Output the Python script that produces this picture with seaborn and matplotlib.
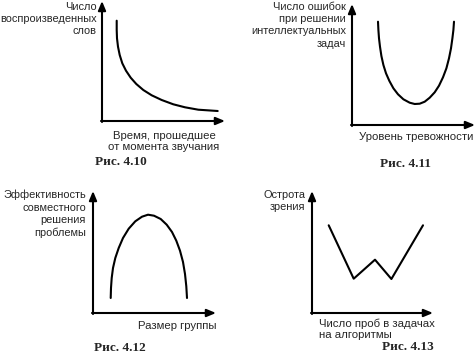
import matplotlib
import matplotlib.pyplot as plt
import seaborn as sns

matplotlib.use("Agg")

# Tamaño de la imagen de referencia en pixeles
ANCHO_PX = 477
ALTO_PX = 363

# Рис. 4.10: curva del olvido (unidades en pixeles desde el origen del panel)
olvido_x = [14.7, 14.7, 15.0, 16.0, 17.7, 20.3, 24.0, 28.7, 34.3, 41.3, 49.7,
            59.7, 71.3, 83.0, 96.3, 115.7]
olvido_y = [100.3, 91.0, 82.7, 74.3, 66.0, 57.7, 50.3, 43.3, 37.0, 31.0, 25.7,
            21.0, 16.7, 13.7, 11.3, 10.0]

# Рис. 4.11: errores segun el nivel de ansiedad
ansiedad_x = [26.0, 26.4, 27.0, 28.0, 29.4, 31.4, 34.0, 37.4, 41.4, 46.0, 51.4, 57.7, 62.7,
              67.7, 72.7, 77.7, 82.7, 87.0, 91.0, 94.4, 97.0, 99.0, 100.4, 101.4, 102.0]
ansiedad_y = [103.3, 95.0, 86.7, 78.3, 69.0, 60.0, 51.7, 44.0, 36.7, 30.7, 25.7, 22.3, 21.0,
              21.3, 23.3, 27.3, 32.7, 39.3, 47.7, 56.7, 66.7, 76.7, 86.7, 95.0, 103.3]

# Рис. 4.12: eficacia segun el tamaño del grupo
grupo_x = [17.7, 18.0, 18.7, 20.0, 22.3, 25.7, 30.0, 35.7, 42.3, 49.0, 55.0,
           61.0, 67.7, 73.7, 79.0, 83.3, 87.0, 90.0, 92.0, 93.3, 94.0]
grupo_y = [15.0, 25.0, 35.0, 45.0, 55.0, 65.0, 75.0, 84.3, 91.7, 96.3, 98.3,
           97.3, 94.0, 88.3, 81.0, 72.3, 62.3, 51.0, 39.0, 26.7, 15.0]

# Рис. 4.13: agudeza visual segun el numero de pruebas
pruebas_x = [16.7, 41.7, 63.0, 79.4, 111.0]
pruebas_y = [87.7, 34.3, 53.3, 34.0, 87.7]

# Textos y posiciones de cada panel
paneles = [
    {"origen": (102, 121), "largo_x": 123, "largo_y": 120,
     "x": olvido_x, "y": olvido_y,
     "eje_y": "Число\nвоспроизведенных\nслов", "pos_y": (97, 1.5),
     "eje_x": "Время, прошедшее\nот момента звучания", "pos_x": (164, 131), "alin_x": "center",
     "rotulo": "Рис. 4.10", "pos_rotulo": (121, 162)},
    {"origen": (352, 125), "largo_x": 123, "largo_y": 121,
     "x": ansiedad_x, "y": ansiedad_y,
     "eje_y": "Число ошибок\nпри решении\nинтеллектуальных\nзадач", "pos_y": (346, 1.5),
     "eje_x": "Уровень тревожности", "pos_x": (416, 132), "alin_x": "center",
     "rotulo": "Рис. 4.11", "pos_rotulo": (406, 164)},
    {"origen": (93, 313), "largo_x": 123, "largo_y": 122,
     "x": grupo_x, "y": grupo_y,
     "eje_y": "Эффективность\nсовместного\nрешения\nпроблемы", "pos_y": (86, 190),
     "eje_x": "Размер группы", "pos_x": (177, 321), "alin_x": "center",
     "rotulo": "Рис. 4.12", "pos_rotulo": (120, 348)},
    {"origen": (312, 313), "largo_x": 121, "largo_y": 122,
     "x": pruebas_x, "y": pruebas_y,
     "eje_y": "Острота\nзрения", "pos_y": (305, 190),
     "eje_x": "Число проб в задачах\nна алгоритмы", "pos_x": (319, 319), "alin_x": "left",
     "rotulo": "Рис. 4.13", "pos_rotulo": (408, 347)},
]


def a_figura(px, py):
    # Convierte pixeles de la imagen a fracciones de la figura
    return px / ANCHO_PX, 1 - py / ALTO_PX


sns.set_style("white")
plt.rcParams["font.family"] = ["Liberation Sans", "DejaVu Sans"]

figura = plt.figure(figsize=(ANCHO_PX / 100, ALTO_PX / 100), dpi=100)

for panel in paneles:
    ox, oy = panel["origen"]
    # Cada eje mide 130 px y sus unidades son pixeles
    izquierda, abajo = a_figura(ox, oy)
    area = figura.add_axes([izquierda, abajo, 130 / ANCHO_PX, 130 / ALTO_PX])
    area.set_xlim(0, 130)
    area.set_ylim(0, 130)

    # Se dibuja la curva con seaborn
    sns.lineplot(x=panel["x"], y=panel["y"], ax=area, color="black",
                 linewidth=1.5, sort=False, estimator=None)

    # Ejes con flecha
    flecha = dict(arrowstyle="-|>,head_length=0.6,head_width=0.25", color="black",
                  lw=1.5, shrinkA=0, shrinkB=0, mutation_scale=9)
    area.annotate("", xy=(panel["largo_x"], 0), xytext=(-1, 0), arrowprops=flecha)
    area.annotate("", xy=(0, panel["largo_y"]), xytext=(0, -1), arrowprops=flecha)
    area.axis("off")

    # Etiqueta del eje vertical, alineada a la derecha
    figura.text(*a_figura(*panel["pos_y"]), panel["eje_y"], ha="right", va="top",
                multialignment="right", fontsize=7.9, linespacing=1.3)
    # Etiqueta del eje horizontal
    figura.text(*a_figura(*panel["pos_x"]), panel["eje_x"], ha=panel["alin_x"], va="top",
                multialignment=panel["alin_x"], fontsize=8.2, linespacing=1.1)
    # Rótulo de la figura en negrita
    figura.text(*a_figura(*panel["pos_rotulo"]), panel["rotulo"], ha="center", va="center",
                fontsize=9.5, fontweight="bold", family="Liberation Serif")

figura.savefig("out.png", dpi=100)
plt.close(figura)
